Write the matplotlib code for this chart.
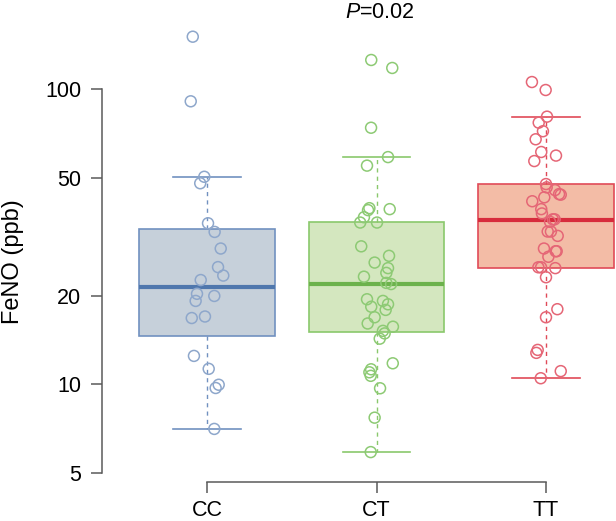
import numpy as np
import matplotlib
matplotlib.use('Agg')
import matplotlib.pyplot as plt
from matplotlib import transforms

plt.rcParams['font.family'] = ['Liberation Sans', 'DejaVu Sans']
plt.rcParams['mathtext.fontset'] = 'custom'
plt.rcParams['mathtext.rm'] = 'Liberation Sans'
plt.rcParams['mathtext.it'] = 'Liberation Sans:italic'

# ---- data ----------------------------------------------------------------
groups = ['CC', 'CT', 'TT']

cc_vals = [151, 91.2, 50.6, 48.1, 35.2, 32.9, 28.9, 25.0, 23.4, 22.6,
           20.3, 19.2, 19.96, 16.8, 17.0, 12.5, 11.3, 9.98, 9.73, 7.07]
cc_jit = [-0.084, -0.096, -0.016, -0.040, 0.006, 0.045, 0.081, 0.065, 0.096, -0.037,
          -0.059, -0.067, 0.043, -0.090, -0.012, -0.077, 0.010, 0.069, 0.051, 0.043]

ct_vals = [125.9, 118.3, 74.2, 59.0, 55.2, 39.6, 39.0, 39.3, 36.9, 35.4,
           35.4, 29.4, 27.3, 25.9, 24.8, 23.9, 23.2, 22.1, 21.9, 19.45,
           19.2, 18.7, 18.35, 17.9, 16.9, 16.1, 15.7, 15.2, 14.9, 14.3,
           11.8, 11.26, 11.0, 10.7, 9.71, 7.72, 5.90]
ct_jit = [-0.031, 0.093, -0.032, 0.068, -0.056, -0.042, -0.050, 0.078, -0.074, -0.096,
          0.003, -0.090, 0.074, -0.011, 0.068, 0.058, -0.074, 0.058, 0.086, -0.056,
          0.038, 0.068, -0.031, 0.054, -0.011, -0.052, 0.097, 0.038, 0.048, 0.019,
          0.096, -0.032, -0.042, -0.034, 0.021, -0.011, -0.034]

tt_vals = [106.0, 99.6, 80.9, 77.2, 72.2, 67.8, 61.4, 59.7, 57.2, 47.8,
           46.6, 45.6, 44.2, 44.0, 43.1, 41.8, 39.3, 38.0, 36.3, 36.3,
           35.6, 33.0, 33.0, 31.9, 28.9, 28.3, 28.3, 27.1, 24.96, 24.96,
           24.8, 23.1, 18.0, 16.9, 13.1, 12.8, 11.1, 10.5]
tt_jit = [-0.083, -0.002, 0.006, -0.043, -0.018, -0.061, -0.028, 0.059, -0.069, 0.0,
          0.004, 0.053, 0.077, 0.087, -0.010, -0.081, -0.028, -0.024, 0.040, 0.051,
          0.024, 0.010, 0.029, 0.069, -0.012, 0.063, 0.057, 0.014, -0.045, -0.029,
          0.055, 0.0, 0.067, 0.0, -0.049, -0.057, 0.087, -0.031]

# box summaries
q1 = [14.6, 15.1, 24.8]
med = [21.35, 21.9, 36.1]
q3 = [33.7, 35.5, 47.7]
whislo = [7.07, 5.89, 10.5]
whishi = [50.6, 59.0, 80.5]

yticks = [5, 10, 20, 50, 100]

# ---- styles ----------------------------------------------------------------
fills = ['#c6d0da', '#d4e7bf', '#f3bca6']
edges = ['#7191c0', '#8ac86c', '#e04a58']
meds = ['#4f77ad', '#6cb24c', '#d72c3c']
pts = ['#8ea7cb', '#8dca74', '#e56676']

fig = plt.figure(figsize=(6.16, 5.21), dpi=100)
ax = fig.add_axes([102/616, 39/521, 514/616, 482/521])

stats = [dict(med=med[i], q1=q1[i], q3=q3[i], whislo=whislo[i], whishi=whishi[i],
              fliers=[]) for i in range(3)]
bp = ax.bxp(stats, positions=[1, 2, 3], widths=0.8, capwidths=0.4,
            patch_artist=True, showfliers=False)
for i in range(3):
    bp['boxes'][i].set(facecolor=fills[i], edgecolor=edges[i], linewidth=1.2)
    bp['medians'][i].set(color=meds[i], linewidth=3.0, solid_capstyle='butt')
    for w in bp['whiskers'][2*i:2*i+2]:
        w.set(color=edges[i], linewidth=1.0, linestyle=(0, (3, 3)))
    for c in bp['caps'][2*i:2*i+2]:
        c.set(color=edges[i], linewidth=1.2)

for i, (vals, jit) in enumerate([(cc_vals, cc_jit), (ct_vals, ct_jit), (tt_vals, tt_jit)]):
    ax.scatter(np.array(jit) + i + 1, vals, s=62, facecolors='none',
               edgecolors=pts[i], linewidths=1.1, zorder=4)

ax.set_yscale('log')
# pixel mapping from the reference: 5 at y=473.3, 295 px per decade, axes spans y 0..482
ax.set_ylim(5 * 10 ** ((473.3 - 482) / 295), 5 * 10 ** (473.3 / 295))
ax.set_xlim(0.3805, 3.413)

ax.set_yticks(yticks)
ax.set_yticklabels([str(t) for t in yticks])
ax.yaxis.set_minor_locator(matplotlib.ticker.NullLocator())
ax.set_xticks([1, 2, 3])
ax.set_xticklabels(groups)

for s in ['top', 'right']:
    ax.spines[s].set_visible(False)
ax.spines['left'].set_bounds(5, 100)
ax.spines['bottom'].set_bounds(1, 3)
for s in ['left', 'bottom']:
    ax.spines[s].set_color('#5a5a5a')
    ax.spines[s].set_linewidth(1.1)
ax.tick_params(axis='both', direction='out', length=8, width=1.1, color='#5a5a5a',
               labelsize=15.5, labelcolor='black')
ax.tick_params(axis='y', pad=7)
ax.tick_params(axis='x', pad=5)

trans = transforms.blended_transform_factory(ax.transData, ax.transAxes)
ax.text(2.02, (482 - 12) / 482, '$P$=0.02', transform=trans, ha='center', va='center',
        fontsize=15.5)
fig.text(13 / 616, 1 - 262 / 521, 'FeNO (ppb)', rotation=90, ha='center', va='center',
         fontsize=17)

fig.savefig('out.png', dpi=100)
